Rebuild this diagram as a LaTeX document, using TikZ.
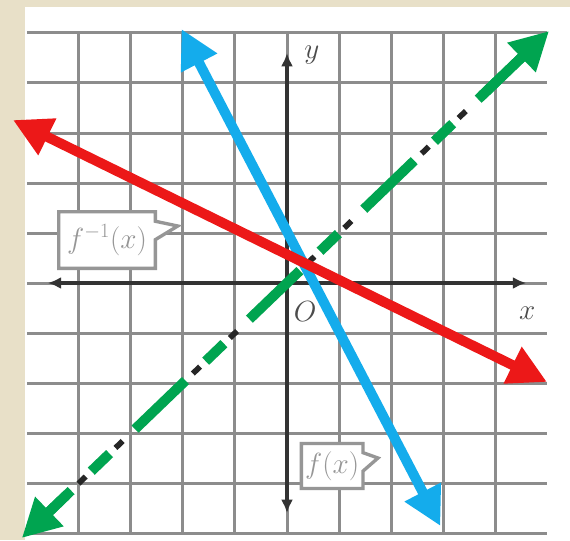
\documentclass[tikz,border=0pt]{standalone}
\usepackage{xcolor}
\usepackage{tikz}
\usetikzlibrary{arrows.meta, shapes.callouts}

\definecolor{paper}{RGB}{232,224,200}
\definecolor{fred}{RGB}{236,24,24}
\definecolor{fblue}{RGB}{20,172,236}
\definecolor{fgreen}{RGB}{0,164,80}
\definecolor{gridgray}{RGB}{140,140,140}
\definecolor{taggray}{RGB}{150,150,150}

\begin{document}
\begin{tikzpicture}[x=1.56cm, y=1.5cm,
    gridline/.style={gridgray, line width=0.09cm},
    axis/.style={black!80, line width=0.12cm, {Latex[length=0.4cm,width=0.36cm]}-{Latex[length=0.4cm,width=0.36cm]}},
    graph/.style={line width=0.3cm, {Triangle[length=1.15cm,width=1.15cm]}-{Triangle[length=1.15cm,width=1.15cm]}},
    head/.style={line width=0.3cm, -{Triangle[length=1.15cm,width=1.15cm]}},
    tag/.style={rectangle callout, draw=taggray, line width=0.1cm, fill=white, text=taggray,
        font=\fontsize{26}{28}\selectfont, callout pointer width=0.55cm, inner sep=0pt},
    axlabel/.style={text=black!70, font=\fontsize{32}{34}\selectfont}]
    \fill[paper] (-5.519,-5.14) rectangle (5.442,5.66);
    \fill[white] (-5.038,-5.14) rectangle (5.442,5.52);
    \useasboundingbox (-5.519,-5.14) rectangle (5.442,5.66);
    % grid
    \foreach \k in {-5,...,5} \draw[gridline] (-5,\k) -- (5,\k);
    \foreach \k in {-4,...,4} \draw[gridline] (\k,-5) -- (\k,5);
    % axes
    \coordinate (xl) at (-4.6,0);
    \coordinate (xr) at (4.6,0);
    \coordinate (yb) at (0,-4.6);
    \coordinate (yt) at (0,4.6);
    \draw[axis] (xl) -- (xr);
    \draw[axis] (yb) -- (yt);
    \node[axlabel] (ylab) at (0.48,4.56) {$y$};
    \node[axlabel] (xlab) at (4.62,-0.6) {$x$};
    \node[axlabel] (olab) at (0.35,-0.58) {$O$};
    % labels
    \node[tag, callout absolute pointer={(-2.1,1.14)}, minimum width=2.9cm, minimum height=1.7cm] (finv) at (-3.46,0.86) {$f^{-1}(x)$};
    \node[tag, callout absolute pointer={(1.75,-3.5)}, minimum width=1.85cm, minimum height=1.35cm] (fx) at (0.87,-3.66) {$f(x)$};
    % y = x
    \coordinate (gA) at (-5.1,-5.1);
    \coordinate (gS) at (-4.9,-4.9);
    \coordinate (gE) at (4.6,4.6);
    \coordinate (gB) at (5.04,5.04);
    \coordinate (gL) at (-4.25,-4.25);
    \coordinate (gU) at (3.75,3.75);
    \draw[fgreen, line width=0.3cm, dash pattern=on 2.1cm off 0.84cm on 0.76cm off 1.06cm, dash phase=0.48cm] (gS) -- (gE);
    \draw[fgreen, head] (gL) -- (gA);
    \draw[fgreen, head] (gU) -- (gB);
    \coordinate (kS) at (-4.01,-4.01);
    \coordinate (kE) at (4,4);
    \draw[black!85, line width=0.17cm, dash pattern=on 0.3cm off 1.24cm on 0.3cm off 2.92cm] (kS) -- (kE);
    % f and its inverse
    \coordinate (bT) at (-2.03,5.08);
    \coordinate (bB) at (2.95,-4.86);
    \draw[fblue, graph] (bT) -- (bB);
    \coordinate (rL) at (-5.27,3.26);
    \coordinate (rR) at (5.0,-1.98);
    \draw[fred, graph] (rL) -- (rR);
\end{tikzpicture}
\end{document}
